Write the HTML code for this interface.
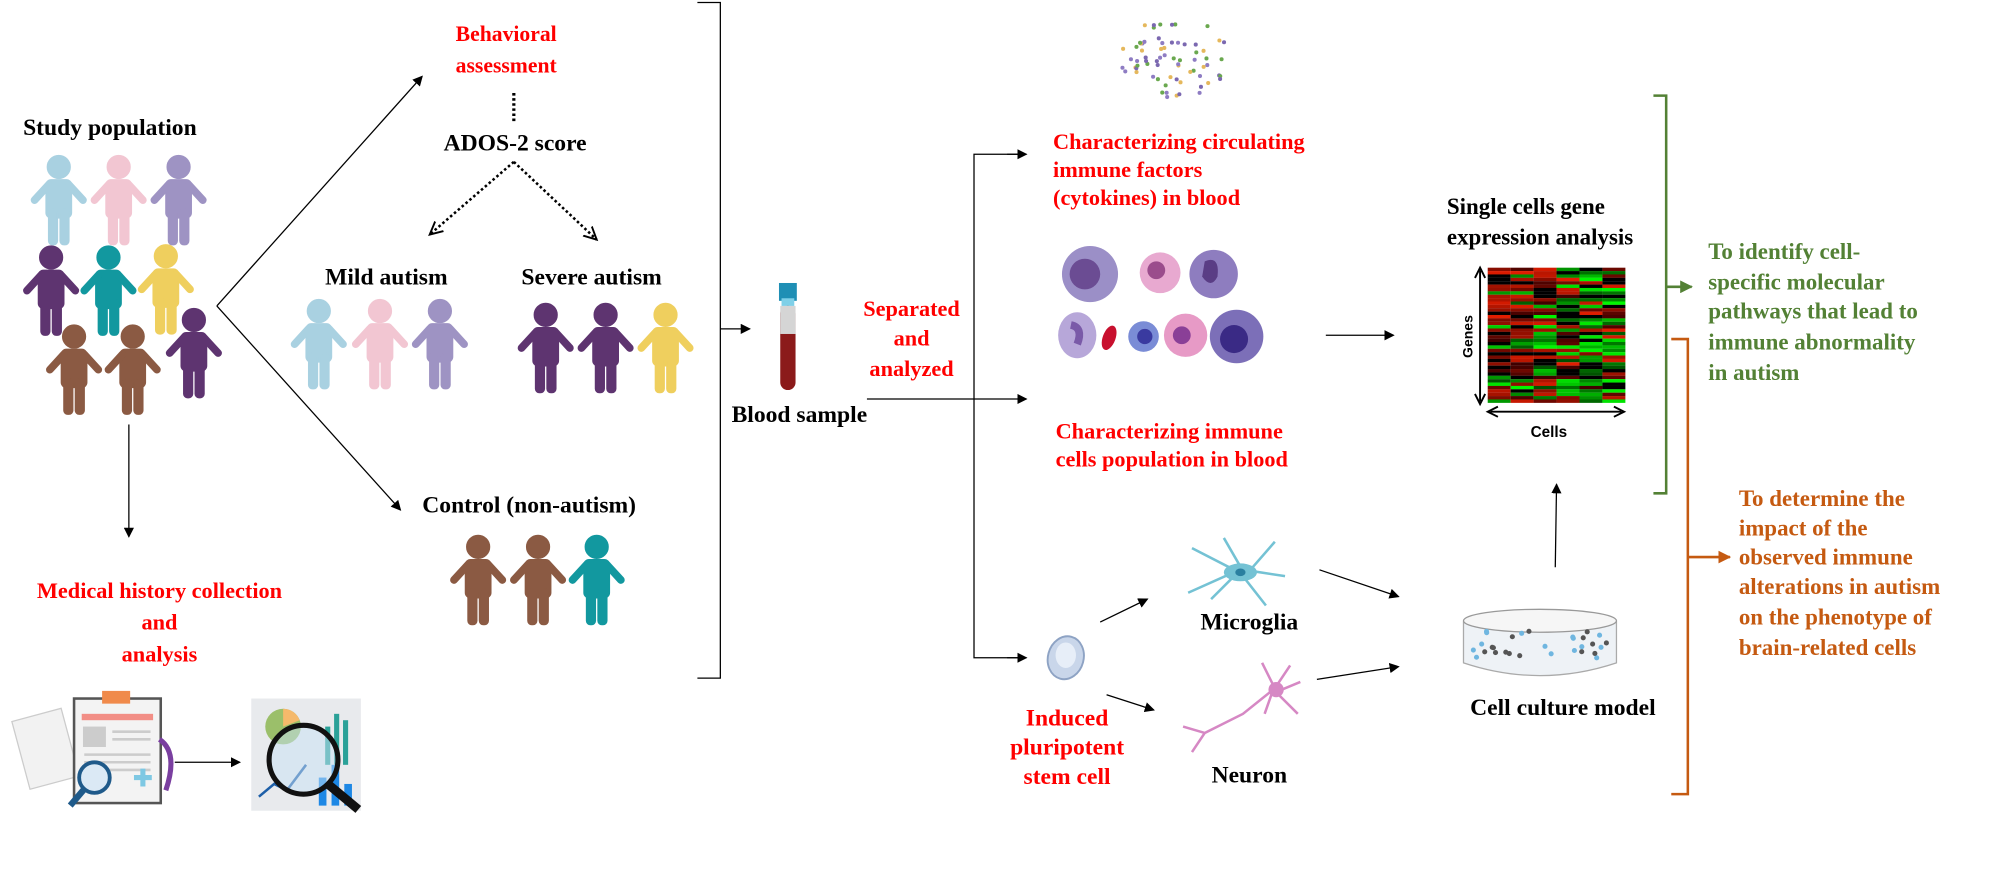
<!DOCTYPE html>
<html><head><meta charset="utf-8"><style>
html,body{margin:0;padding:0;background:#fff;}
svg{display:block;}
text{font-family:"Liberation Serif",serif;font-weight:bold;}
</style></head><body>
<svg id="s" width="1999" height="877" viewBox="0 0 1568 688" xmlns="http://www.w3.org/2000/svg">
<defs>
<marker id="a" markerWidth="8" markerHeight="8" refX="7" refY="4" orient="auto" markerUnits="userSpaceOnUse"><path d="M0,0 L8,4 L0,8 z" fill="#000"/></marker>
<marker id="ao" markerWidth="10" markerHeight="10" refX="9" refY="5" orient="auto" markerUnits="userSpaceOnUse"><path d="M0,0 L10,5 L0,10 z" fill="#c55a11"/></marker>
<marker id="ag" markerWidth="10" markerHeight="10" refX="9" refY="5" orient="auto" markerUnits="userSpaceOnUse"><path d="M0,0 L10,5 L0,10 z" fill="#538135"/></marker>
<marker id="ad" markerWidth="12" markerHeight="12" refX="10" refY="6" orient="auto" markerUnits="userSpaceOnUse"><path d="M0,1 L10,6 L0,11" fill="none" stroke="#000" stroke-width="1.5"/></marker>
<g id="p">
<circle cx="0" cy="9" r="9"/>
<rect x="-10" y="19" width="20" height="30" rx="4"/>
<path d="M-8,23 L-19,35 M8,23 L19,35" stroke-width="6" stroke-linecap="round"/>
<rect x="-8" y="42" width="7" height="28" rx="3"/>
<rect x="1" y="42" width="7" height="28" rx="3"/>
</g>
</defs>

<g id="people"></g>

<text x="18" y="106" font-size="18.5">Study population</text>
<line x1="170" y1="240" x2="331" y2="60" stroke="#000" stroke-width="1" marker-end="url(#a)"/>
<line x1="170" y1="240" x2="314" y2="400" stroke="#000" stroke-width="1" marker-end="url(#a)"/>
<text x="397" y="32" font-size="17" fill="#ff0000" text-anchor="middle">Behavioral</text>
<text x="397" y="57" font-size="17" fill="#ff0000" text-anchor="middle">assessment</text>
<line x1="403" y1="73" x2="403" y2="97" stroke="#000" stroke-width="2.5" stroke-dasharray="2,2"/>
<text x="404" y="118" font-size="18.5" text-anchor="middle">ADOS-2 score</text>
<line x1="403" y1="127" x2="337" y2="184" stroke="#000" stroke-width="2" stroke-dasharray="2,2" marker-end="url(#ad)"/>
<line x1="403" y1="127" x2="468" y2="188" stroke="#000" stroke-width="2" stroke-dasharray="2,2" marker-end="url(#ad)"/>
<text x="303" y="223" font-size="18.5" text-anchor="middle">Mild autism</text>
<text x="464" y="223" font-size="18.5" text-anchor="middle">Severe autism</text>
<text x="415" y="402" font-size="18.5" text-anchor="middle">Control (non-autism)</text>

<line x1="101" y1="333" x2="101" y2="421" stroke="#000" stroke-width="1" marker-end="url(#a)"/>
<text x="125" y="469" font-size="17.5" fill="#ff0000" text-anchor="middle">Medical history collection</text>
<text x="125" y="494" font-size="17.5" fill="#ff0000" text-anchor="middle">and</text>
<text x="125" y="519" font-size="17.5" fill="#ff0000" text-anchor="middle">analysis</text>
<g>
<rect x="15" y="560" width="40" height="55" fill="#f2f2f2" transform="rotate(-15 35 585)" stroke="#ccc"/>
<rect x="58" y="548" width="68" height="82" fill="#f3f3f3" stroke="#555" stroke-width="2"/>
<rect x="80" y="542" width="22" height="10" fill="#f08a4b"/>
<rect x="64" y="560" width="56" height="5" fill="#f28e86"/>
<rect x="65" y="570" width="18" height="16" fill="#ccc"/>
<path d="M88,574h30M88,580h30M66,592h52M66,598h52M66,604h52" stroke="#ccc" stroke-width="2"/>
<circle cx="74" cy="610" r="12" fill="#dbe9f5" stroke="#1f5a8a" stroke-width="3"/>
<line x1="66" y1="619" x2="55" y2="632" stroke="#1f5a8a" stroke-width="5"/>
<path d="M125,580 q15,10 5,40" stroke="#7a3fa0" stroke-width="4" fill="none"/>
<path d="M105,610h14M112,603v14" stroke="#7ec8e3" stroke-width="4"/>
</g>
<line x1="137" y1="598" x2="188" y2="598" stroke="#000" stroke-width="1" marker-end="url(#a)"/>
<g>
<rect x="197" y="548" width="86" height="88" fill="#e8eaed"/>
<circle cx="222" cy="570" r="14" fill="#9bbf6a"/>
<path d="M222,570 L222,556 A14,14 0 0 1 235,565 z" fill="#f5b96b"/>
<rect x="255" y="570" width="4" height="30" fill="#2aa198"/><rect x="262" y="560" width="4" height="40" fill="#2aa198"/><rect x="269" y="565" width="4" height="35" fill="#2aa198"/>
<rect x="250" y="610" width="6" height="22" fill="#1e88e5"/><rect x="260" y="600" width="6" height="32" fill="#1e88e5"/><rect x="270" y="615" width="6" height="17" fill="#1e88e5"/>
<polyline points="203,625 215,615 225,620 240,600" fill="none" stroke="#1e5fa8" stroke-width="2"/>
<circle cx="238" cy="596" r="27" fill="rgba(200,225,245,0.5)" stroke="#111" stroke-width="4"/>
<line x1="257" y1="615" x2="281" y2="635" stroke="#111" stroke-width="7"/>
</g>

<path d="M547,2 L565,2 L565,532 L547,532" fill="none" stroke="#000" stroke-width="1"/>
<line x1="565" y1="258" x2="588" y2="258" stroke="#000" stroke-width="1" marker-end="url(#a)"/>
<rect x="611" y="222" width="14" height="14" fill="#1f8fb5"/>
<rect x="613" y="234" width="10" height="6" fill="#7fd0e8"/>
<rect x="612" y="240" width="12" height="66" rx="6" fill="#8b1a1a"/>
<rect x="612" y="240" width="12" height="22" fill="#d5d5d5"/>
<text x="627" y="331" font-size="18.5" text-anchor="middle">Blood sample</text>
<text x="715" y="248" font-size="17.5" fill="#ff0000" text-anchor="middle">Separated</text>
<text x="715" y="271" font-size="17.5" fill="#ff0000" text-anchor="middle">and</text>
<text x="715" y="295" font-size="17.5" fill="#ff0000" text-anchor="middle">analyzed</text>
<line x1="680" y1="313" x2="805" y2="313" stroke="#000" stroke-width="1" marker-end="url(#a)"/>
<path d="M805,121 L764,121 L764,516 L805,516" fill="none" stroke="#000" stroke-width="1"/>
<line x1="790" y1="121" x2="805" y2="121" stroke="#000" marker-end="url(#a)"/>
<line x1="790" y1="516" x2="805" y2="516" stroke="#000" marker-end="url(#a)"/>

<g id="dots"></g>
<text x="826" y="117" font-size="17.5" fill="#ff0000">Characterizing circulating</text>
<text x="826" y="139" font-size="17.5" fill="#ff0000">immune factors</text>
<text x="826" y="161" font-size="17.5" fill="#ff0000">(cytokines) in blood</text>
<g>
<circle cx="855" cy="215" r="22" fill="#9b8fc7"/><circle cx="851" cy="215" r="12" fill="#6b4c93"/>
<circle cx="910" cy="214" r="16" fill="#e8a9d0"/><circle cx="907" cy="212" r="7" fill="#9b4c8c"/>
<circle cx="952" cy="215" r="19" fill="#8e7dbf"/><path d="M945,205 q12,-5 10,12 q-5,10 -12,0z" fill="#5a3d85"/>
<ellipse cx="845" cy="263" rx="15" ry="18" fill="#b7a7d9"/><path d="M840,255 q10,2 5,15" stroke="#7a5aa8" stroke-width="6" fill="none"/>
<ellipse cx="870" cy="265" rx="5" ry="10" fill="#c8102e" transform="rotate(20 870 265)"/>
<circle cx="897" cy="264" r="12" fill="#7a8cd6"/><circle cx="898" cy="264" r="6" fill="#3a3aa0"/>
<circle cx="930" cy="263" r="17" fill="#e79ac6"/><circle cx="927" cy="263" r="7" fill="#8a3f97"/>
<circle cx="970" cy="264" r="21" fill="#7c6fb8"/><circle cx="968" cy="266" r="11" fill="#3a2a85"/>
</g>
<text x="828" y="344" font-size="17.5" fill="#ff0000">Characterizing immune</text>
<text x="828" y="366" font-size="17.5" fill="#ff0000">cells population in blood</text>
<line x1="1040" y1="263" x2="1093" y2="263" stroke="#000" stroke-width="1" marker-end="url(#a)"/>

<text x="1135" y="168" font-size="18">Single cells gene</text>
<text x="1135" y="192" font-size="18">expression analysis</text>
<g id="heat"></g>
<line x1="1161" y1="212" x2="1161" y2="315" stroke="#000" stroke-width="1.5"/>
<path d="M1157,218 L1161,210 L1165,218 M1157,309 L1161,317 L1165,309" fill="none" stroke="#000" stroke-width="1.5"/>
<text x="1155" y="264" font-size="11" transform="rotate(-90 1155 264)" text-anchor="middle" style="font-family:'Liberation Sans',sans-serif">Genes</text>
<line x1="1169" y1="323" x2="1272" y2="323" stroke="#000" stroke-width="1.5"/>
<path d="M1175,319 L1167,323 L1175,327 M1266,319 L1274,323 L1266,327" fill="none" stroke="#000" stroke-width="1.5"/>
<text x="1215" y="343" font-size="12" text-anchor="middle" style="font-family:'Liberation Sans',sans-serif">Cells</text>

<path d="M1297,75 L1307,75 L1307,387 L1297,387" fill="none" stroke="#538135" stroke-width="2"/>
<line x1="1307" y1="225" x2="1327" y2="225" stroke="#538135" stroke-width="2" marker-end="url(#ag)"/>
<g fill="#538135" font-size="18">
<text x="1340" y="203">To identify cell-</text>
<text x="1340" y="227">specific molecular</text>
<text x="1340" y="250">pathways that lead to</text>
<text x="1340" y="274">immune abnormality</text>
<text x="1340" y="298">in autism</text>
</g>
<path d="M1311,266 L1324,266 L1324,623 L1311,623" fill="none" stroke="#c55a11" stroke-width="2"/>
<line x1="1324" y1="437" x2="1357" y2="437" stroke="#c55a11" stroke-width="2" marker-end="url(#ao)"/>
<g fill="#c55a11" font-size="18">
<text x="1364" y="397">To determine the</text>
<text x="1364" y="420">impact of the</text>
<text x="1364" y="443">observed immune</text>
<text x="1364" y="466">alterations in autism</text>
<text x="1364" y="490">on the phenotype of</text>
<text x="1364" y="514">brain-related cells</text>
</g>

<ellipse cx="836" cy="516" rx="14" ry="17" fill="#c9d6ea" stroke="#8ea3c4" stroke-width="1.5" transform="rotate(15 836 516)"/>
<ellipse cx="836" cy="514" rx="8" ry="10" fill="#e7eef8"/>
<text x="837" y="569" font-size="18.5" fill="#ff0000" text-anchor="middle">Induced</text>
<text x="837" y="592" font-size="18.5" fill="#ff0000" text-anchor="middle">pluripotent</text>
<text x="837" y="615" font-size="18.5" fill="#ff0000" text-anchor="middle">stem cell</text>
<line x1="863" y1="488" x2="900" y2="470" stroke="#000" marker-end="url(#a)"/>
<line x1="868" y1="545" x2="905" y2="557" stroke="#000" marker-end="url(#a)"/>
<g stroke="#74c2d4" stroke-width="2" fill="none">
<path d="M970,448 L935,430 M970,448 L932,465 M975,448 L960,422 M980,448 L1000,425 M982,448 L1008,452 M975,452 L993,475 M968,452 L950,470"/>
</g>
<ellipse cx="973" cy="449" rx="13" ry="7" fill="#74c2d4"/><ellipse cx="973" cy="449" rx="4" ry="3" fill="#2a7fa0"/>
<text x="980" y="494" font-size="18.5" text-anchor="middle">Microglia</text>
<g stroke="#d688c4" stroke-width="2" fill="none">
<path d="M1000,540 L975,560 L945,575 L935,590 M945,575 L928,570 M1000,540 L990,520 M1000,540 L1012,522 M1003,542 L1020,535 M1003,545 L1018,560 M998,543 L992,560"/>
</g>
<circle cx="1001" cy="541" r="6" fill="#d688c4"/>
<text x="980" y="614" font-size="18.5" text-anchor="middle">Neuron</text>
<line x1="1035" y1="447" x2="1097" y2="468" stroke="#000" marker-end="url(#a)"/>
<line x1="1033" y1="533" x2="1097" y2="523" stroke="#000" marker-end="url(#a)"/>
<path d="M1148,487 L1148,520 Q1208,540 1268,520 L1268,487" fill="#eef2f6" stroke="#aaa"/>
<ellipse cx="1208" cy="487" rx="60" ry="9" fill="#f6f6f6" stroke="#999"/>
<g id="pet"></g>
<text x="1226" y="561" font-size="18.5" text-anchor="middle">Cell culture model</text>
<line x1="1220" y1="445" x2="1221" y2="380" stroke="#000" marker-end="url(#a)"/>
</svg>
<script>
var NS="http://www.w3.org/2000/svg";
function el(p,t,a){var e=document.createElementNS(NS,t);for(var k in a)e.setAttribute(k,a[k]);p.appendChild(e);return e;}
var P=document.getElementById('people');
var C={b:'#a9d1e1',k:'#f2c6d2',v:'#9e93c3',d:'#5e3470',t:'#12989f',y:'#efcf5e',r:'#8b5a43'};
var ppl=[[46,122,'b'],[93,122,'k'],[140,122,'v'],[40,193,'d'],[85,193,'t'],[130,192,'y'],[58,255,'r'],[104,255,'r'],[152,242,'d'],
[250,235,'b'],[298,235,'k'],[345,235,'v'],[428,238,'d'],[475,238,'d'],[522,238,'y'],
[375,420,'r'],[422,420,'r'],[468,420,'t']];
ppl.forEach(function(q){var u=el(P,'use',{href:'#p',transform:'translate('+q[0]+','+q[1]+')'});u.setAttribute('fill',C[q[2]]);u.setAttribute('stroke',C[q[2]]);});
var D=document.getElementById('dots');var s=7;function r(){s=(s*9301+49297)%233280;return s/233280;}
var dc=['#8e7cc3','#6aa84f','#e5b85c','#7b68b0'];
for(var i=0;i<70;i++){var a=r()*6.28,d=Math.sqrt(r())*40;el(D,'circle',{cx:920+Math.cos(a)*d*1.1,cy:45+Math.sin(a)*d*0.8,r:1.6,fill:dc[i%4]});}
var H=document.getElementById('heat');
for(var c=0;c<6;c++)for(var j=0;j<40;j++){var v=r();var g=c>=3?0.6:0.25;var col;
 if(r()<g){col='rgb(0,'+Math.floor(80+v*175)+',0)';}else{col='rgb('+Math.floor(60+v*170)+','+Math.floor(v*30)+',0)';}
 if(r()<0.2)col='#000';
 el(H,'rect',{x:1167+c*18,y:210+j*2.65,width:18,height:2.7,fill:col});}
var T=document.getElementById('pet');
for(var i=0;i<30;i++){el(T,'circle',{cx:1155+r()*106,cy:495+r()*22,r:2,fill:i%2?'#6fb6e0':'#555'});}
</script>
</body></html>
